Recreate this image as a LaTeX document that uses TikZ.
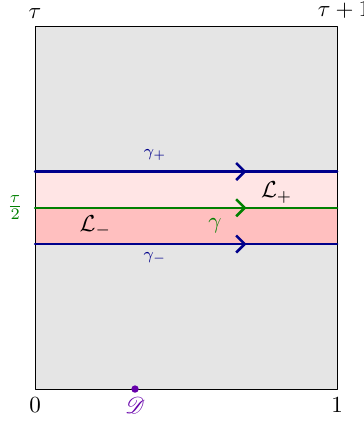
\documentclass[tikz,border=0pt]{standalone}
\usepackage{mathrsfs}
\usetikzlibrary{decorations.markings,arrows.meta}
\definecolor{pathblue}{RGB}{0,0,139}
\definecolor{pathgreen}{RGB}{0,128,0}
\definecolor{ptviolet}{RGB}{102,0,170}
\begin{document}
\begin{tikzpicture}[x=4.6cm,y=4.6cm,line join=round,line cap=round,
    >={Straight Barb[length=1.3mm,width=2.6mm]},
    midarrow/.style={line width=1.1pt,postaction={decorate},
      decoration={markings,mark=at position .7 with {\arrow{>}}}}]
                \useasboundingbox (-0.116,-0.119) rectangle (1.086,1.288);
                \coordinate (O) at (0,0);
                \coordinate (E) at (1,0);
                \coordinate (T) at (0,1.2);
                \coordinate (S) at (1,1.2);
                \coordinate (D) at (0.331,0);
                % strips
                \fill[gray!20] (O) rectangle (S);
                \fill[red!10] (0,0.6) rectangle (1,0.72);
                \fill[red!25] (0,0.48) rectangle (1,0.6);
                \draw (O)--(E)--(S)--(T)--cycle;
                % paths
                \draw[midarrow,pathblue] (0,0.72) coordinate (p1)--(1,0.72) coordinate (p2);
                \draw[midarrow,pathgreen] (0,0.6) coordinate (g1)--(1,0.6) coordinate (g2);
                \draw[midarrow,pathblue] (0,0.48) coordinate (m1)--(1,0.48) coordinate (m2);
                \fill[ptviolet] (D) circle(1.6pt);
                \foreach \i/\j in {O/0,E/1}
                \node[below] (l\i) at (\i) {$\j$};
                \node[above] (lT) at (T) {$\tau$};
                \node[above,xshift=3pt] (lS) at (S) {$\tau+1$};
                \node[below,ptviolet] (lD) at (D) {$\mathscr{D}$};
                \node[pathgreen] (half) at (-0.066,0.6) {$\frac{\tau}{2}$};
                \node[pathblue,font=\scriptsize] (gp) at (0.397,0.775) {$\gamma_+$};
                \node[pathblue,font=\scriptsize] (gm) at (0.397,0.434) {$\gamma_-$};
                \node[pathgreen] (g) at (0.596,0.54) {$\gamma$};
                \node (Lp) at (0.80,0.65) {$\mathcal{L}_+$};
                \node (Lm) at (0.20,0.54) {$\mathcal{L}_-$};
            \end{tikzpicture}
\end{document}
